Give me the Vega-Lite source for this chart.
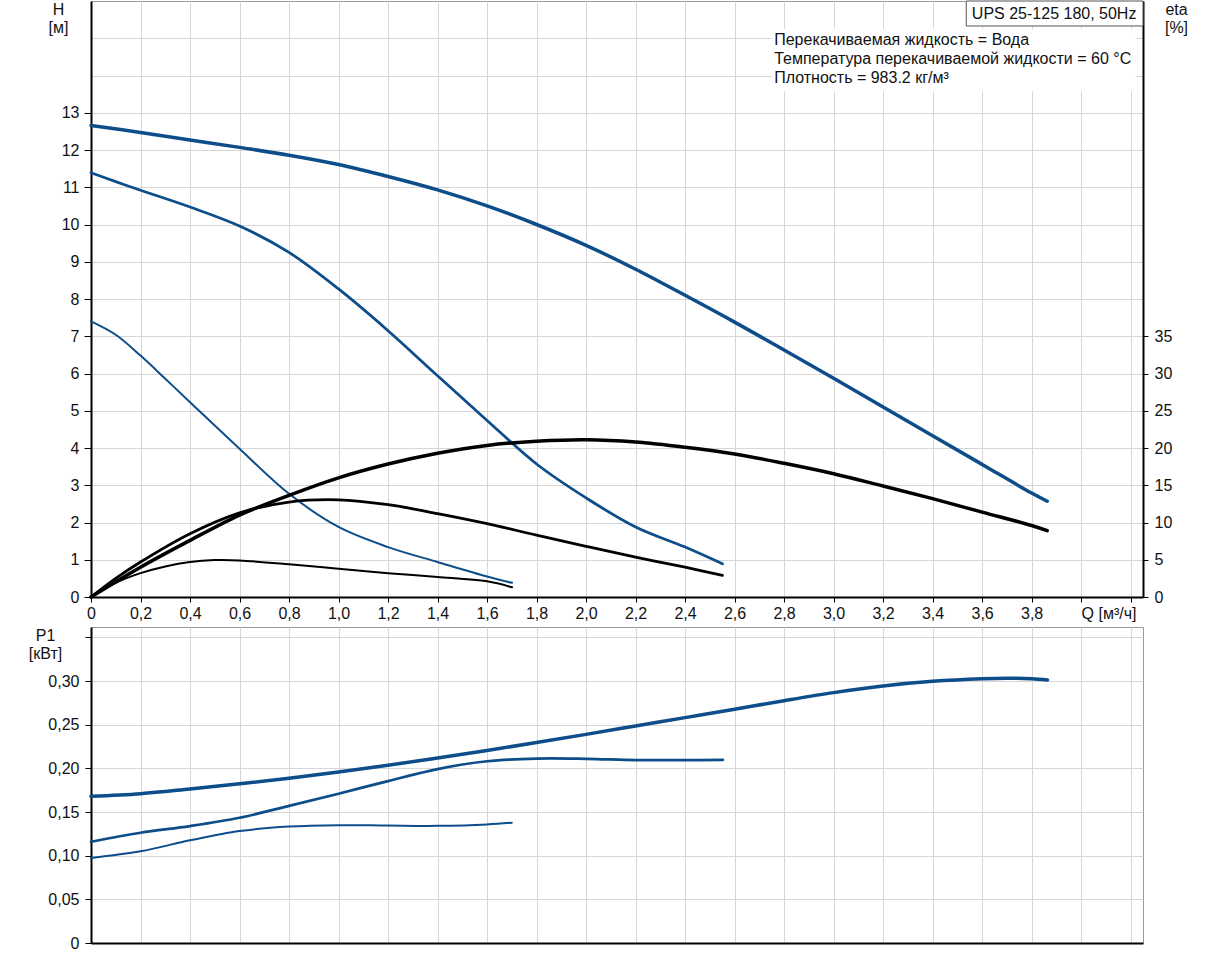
{
  "$schema": "https://vega.github.io/schema/vega-lite/v6.json",
  "padding": {"left": 27, "top": 0, "right": 5, "bottom": 5},
  "background": "white",
  "config": {
    "view": {"stroke": "#9a9a9a", "strokeWidth": 1},
    "axis": {
      "domainColor": "black", "domainWidth": 2, "tickColor": "black", "tickWidth": 1,
      "labelFont": "Liberation Sans", "labelFontSize": 16, "labelColor": "#111",
      "titleFont": "Liberation Sans", "titleFontSize": 16, "titleFontWeight": "normal", "titleColor": "#111",
      "gridColor": "#d6d6d6", "gridWidth": 1, "labelOverlap": false, "labelBound": false, "labelFlush": false
    },
    "text": {"font": "Liberation Sans"}
  },
  "datasets": {
    "curves": [
      {"kind": "H", "speed": "max", "Q": 0, "v": 12.66},
      {"kind": "H", "speed": "max", "Q": 0.2, "v": 12.47},
      {"kind": "H", "speed": "max", "Q": 0.4, "v": 12.27},
      {"kind": "H", "speed": "max", "Q": 0.6, "v": 12.07},
      {"kind": "H", "speed": "max", "Q": 0.8, "v": 11.86},
      {"kind": "H", "speed": "max", "Q": 1.0, "v": 11.61},
      {"kind": "H", "speed": "max", "Q": 1.2, "v": 11.29},
      {"kind": "H", "speed": "max", "Q": 1.4, "v": 10.93},
      {"kind": "H", "speed": "max", "Q": 1.6, "v": 10.50},
      {"kind": "H", "speed": "max", "Q": 1.8, "v": 10.0},
      {"kind": "H", "speed": "max", "Q": 2.0, "v": 9.44},
      {"kind": "H", "speed": "max", "Q": 2.2, "v": 8.80},
      {"kind": "H", "speed": "max", "Q": 2.4, "v": 8.10},
      {"kind": "H", "speed": "max", "Q": 2.6, "v": 7.38},
      {"kind": "H", "speed": "max", "Q": 2.8, "v": 6.63},
      {"kind": "H", "speed": "max", "Q": 3.0, "v": 5.87},
      {"kind": "H", "speed": "max", "Q": 3.2, "v": 5.10},
      {"kind": "H", "speed": "max", "Q": 3.4, "v": 4.33},
      {"kind": "H", "speed": "max", "Q": 3.6, "v": 3.56},
      {"kind": "H", "speed": "max", "Q": 3.8, "v": 2.79},
      {"kind": "H", "speed": "max", "Q": 3.863, "v": 2.57},

      {"kind": "H", "speed": "mid", "Q": 0, "v": 11.39},
      {"kind": "H", "speed": "mid", "Q": 0.1, "v": 11.15},
      {"kind": "H", "speed": "mid", "Q": 0.2, "v": 10.92},
      {"kind": "H", "speed": "mid", "Q": 0.4, "v": 10.47},
      {"kind": "H", "speed": "mid", "Q": 0.6, "v": 9.96},
      {"kind": "H", "speed": "mid", "Q": 0.8, "v": 9.25},
      {"kind": "H", "speed": "mid", "Q": 1.0, "v": 8.27},
      {"kind": "H", "speed": "mid", "Q": 1.2, "v": 7.15},
      {"kind": "H", "speed": "mid", "Q": 1.4, "v": 5.94},
      {"kind": "H", "speed": "mid", "Q": 1.6, "v": 4.74},
      {"kind": "H", "speed": "mid", "Q": 1.8, "v": 3.57},
      {"kind": "H", "speed": "mid", "Q": 2.0, "v": 2.66},
      {"kind": "H", "speed": "mid", "Q": 2.2, "v": 1.88},
      {"kind": "H", "speed": "mid", "Q": 2.4, "v": 1.34},
      {"kind": "H", "speed": "mid", "Q": 2.551, "v": 0.89},

      {"kind": "H", "speed": "min", "Q": 0, "v": 7.40},
      {"kind": "H", "speed": "min", "Q": 0.1, "v": 7.04},
      {"kind": "H", "speed": "min", "Q": 0.2, "v": 6.48},
      {"kind": "H", "speed": "min", "Q": 0.3, "v": 5.86},
      {"kind": "H", "speed": "min", "Q": 0.4, "v": 5.23},
      {"kind": "H", "speed": "min", "Q": 0.6, "v": 3.98},
      {"kind": "H", "speed": "min", "Q": 0.8, "v": 2.77},
      {"kind": "H", "speed": "min", "Q": 1.0, "v": 1.88},
      {"kind": "H", "speed": "min", "Q": 1.2, "v": 1.34},
      {"kind": "H", "speed": "min", "Q": 1.4, "v": 0.94},
      {"kind": "H", "speed": "min", "Q": 1.6, "v": 0.55},
      {"kind": "H", "speed": "min", "Q": 1.701, "v": 0.38},

      {"kind": "eta", "speed": "max", "Q": 0, "v": 0},
      {"kind": "eta", "speed": "max", "Q": 0.2, "v": 4.0},
      {"kind": "eta", "speed": "max", "Q": 0.4, "v": 7.6},
      {"kind": "eta", "speed": "max", "Q": 0.6, "v": 11.0},
      {"kind": "eta", "speed": "max", "Q": 0.8, "v": 13.65},
      {"kind": "eta", "speed": "max", "Q": 1.0, "v": 16.0},
      {"kind": "eta", "speed": "max", "Q": 1.2, "v": 17.85},
      {"kind": "eta", "speed": "max", "Q": 1.4, "v": 19.3},
      {"kind": "eta", "speed": "max", "Q": 1.6, "v": 20.35},
      {"kind": "eta", "speed": "max", "Q": 1.8, "v": 20.9},
      {"kind": "eta", "speed": "max", "Q": 2.0, "v": 21.1},
      {"kind": "eta", "speed": "max", "Q": 2.2, "v": 20.8},
      {"kind": "eta", "speed": "max", "Q": 2.4, "v": 20.1},
      {"kind": "eta", "speed": "max", "Q": 2.6, "v": 19.2},
      {"kind": "eta", "speed": "max", "Q": 2.8, "v": 17.95},
      {"kind": "eta", "speed": "max", "Q": 3.0, "v": 16.55},
      {"kind": "eta", "speed": "max", "Q": 3.2, "v": 14.9},
      {"kind": "eta", "speed": "max", "Q": 3.4, "v": 13.2},
      {"kind": "eta", "speed": "max", "Q": 3.6, "v": 11.4},
      {"kind": "eta", "speed": "max", "Q": 3.8, "v": 9.6},
      {"kind": "eta", "speed": "max", "Q": 3.863, "v": 8.9},

      {"kind": "eta", "speed": "mid", "Q": 0, "v": 0},
      {"kind": "eta", "speed": "mid", "Q": 0.1, "v": 2.5},
      {"kind": "eta", "speed": "mid", "Q": 0.2, "v": 4.7},
      {"kind": "eta", "speed": "mid", "Q": 0.4, "v": 8.5},
      {"kind": "eta", "speed": "mid", "Q": 0.6, "v": 11.3},
      {"kind": "eta", "speed": "mid", "Q": 0.8, "v": 12.75},
      {"kind": "eta", "speed": "mid", "Q": 1.0, "v": 13.05},
      {"kind": "eta", "speed": "mid", "Q": 1.2, "v": 12.4},
      {"kind": "eta", "speed": "mid", "Q": 1.4, "v": 11.2},
      {"kind": "eta", "speed": "mid", "Q": 1.6, "v": 9.85},
      {"kind": "eta", "speed": "mid", "Q": 1.8, "v": 8.3},
      {"kind": "eta", "speed": "mid", "Q": 2.0, "v": 6.8},
      {"kind": "eta", "speed": "mid", "Q": 2.2, "v": 5.35},
      {"kind": "eta", "speed": "mid", "Q": 2.4, "v": 4.0},
      {"kind": "eta", "speed": "mid", "Q": 2.551, "v": 2.9},

      {"kind": "eta", "speed": "min", "Q": 0, "v": 0},
      {"kind": "eta", "speed": "min", "Q": 0.1, "v": 1.9},
      {"kind": "eta", "speed": "min", "Q": 0.2, "v": 3.2},
      {"kind": "eta", "speed": "min", "Q": 0.3, "v": 4.1},
      {"kind": "eta", "speed": "min", "Q": 0.4, "v": 4.7},
      {"kind": "eta", "speed": "min", "Q": 0.5, "v": 4.95},
      {"kind": "eta", "speed": "min", "Q": 0.6, "v": 4.9},
      {"kind": "eta", "speed": "min", "Q": 0.8, "v": 4.4},
      {"kind": "eta", "speed": "min", "Q": 1.0, "v": 3.8},
      {"kind": "eta", "speed": "min", "Q": 1.2, "v": 3.2},
      {"kind": "eta", "speed": "min", "Q": 1.4, "v": 2.7},
      {"kind": "eta", "speed": "min", "Q": 1.6, "v": 2.1},
      {"kind": "eta", "speed": "min", "Q": 1.701, "v": 1.3},

      {"kind": "P1", "speed": "max", "Q": 0, "v": 0.168},
      {"kind": "P1", "speed": "max", "Q": 0.2, "v": 0.171},
      {"kind": "P1", "speed": "max", "Q": 0.4, "v": 0.1765},
      {"kind": "P1", "speed": "max", "Q": 0.6, "v": 0.1824},
      {"kind": "P1", "speed": "max", "Q": 0.8, "v": 0.1888},
      {"kind": "P1", "speed": "max", "Q": 1.0, "v": 0.1958},
      {"kind": "P1", "speed": "max", "Q": 1.2, "v": 0.2036},
      {"kind": "P1", "speed": "max", "Q": 1.4, "v": 0.2120},
      {"kind": "P1", "speed": "max", "Q": 1.6, "v": 0.2206},
      {"kind": "P1", "speed": "max", "Q": 1.8, "v": 0.2296},
      {"kind": "P1", "speed": "max", "Q": 2.0, "v": 0.239},
      {"kind": "P1", "speed": "max", "Q": 2.2, "v": 0.2486},
      {"kind": "P1", "speed": "max", "Q": 2.4, "v": 0.2582},
      {"kind": "P1", "speed": "max", "Q": 2.6, "v": 0.2678},
      {"kind": "P1", "speed": "max", "Q": 2.8, "v": 0.2776},
      {"kind": "P1", "speed": "max", "Q": 3.0, "v": 0.2868},
      {"kind": "P1", "speed": "max", "Q": 3.2, "v": 0.2945},
      {"kind": "P1", "speed": "max", "Q": 3.4, "v": 0.2998},
      {"kind": "P1", "speed": "max", "Q": 3.6, "v": 0.3028},
      {"kind": "P1", "speed": "max", "Q": 3.7, "v": 0.3034},
      {"kind": "P1", "speed": "max", "Q": 3.8, "v": 0.3027},
      {"kind": "P1", "speed": "max", "Q": 3.864, "v": 0.3014},

      {"kind": "P1", "speed": "mid", "Q": 0, "v": 0.116},
      {"kind": "P1", "speed": "mid", "Q": 0.2, "v": 0.1263},
      {"kind": "P1", "speed": "mid", "Q": 0.4, "v": 0.134},
      {"kind": "P1", "speed": "mid", "Q": 0.6, "v": 0.1435},
      {"kind": "P1", "speed": "mid", "Q": 0.8, "v": 0.157},
      {"kind": "P1", "speed": "mid", "Q": 1.0, "v": 0.171},
      {"kind": "P1", "speed": "mid", "Q": 1.2, "v": 0.1855},
      {"kind": "P1", "speed": "mid", "Q": 1.4, "v": 0.1992},
      {"kind": "P1", "speed": "mid", "Q": 1.6, "v": 0.2082},
      {"kind": "P1", "speed": "mid", "Q": 1.8, "v": 0.2113},
      {"kind": "P1", "speed": "mid", "Q": 2.0, "v": 0.2110},
      {"kind": "P1", "speed": "mid", "Q": 2.2, "v": 0.2096},
      {"kind": "P1", "speed": "mid", "Q": 2.4, "v": 0.2094},
      {"kind": "P1", "speed": "mid", "Q": 2.553, "v": 0.2099},

      {"kind": "P1", "speed": "min", "Q": 0, "v": 0.0975},
      {"kind": "P1", "speed": "min", "Q": 0.2, "v": 0.105},
      {"kind": "P1", "speed": "min", "Q": 0.4, "v": 0.1176},
      {"kind": "P1", "speed": "min", "Q": 0.6, "v": 0.1282},
      {"kind": "P1", "speed": "min", "Q": 0.8, "v": 0.1334},
      {"kind": "P1", "speed": "min", "Q": 1.0, "v": 0.1350},
      {"kind": "P1", "speed": "min", "Q": 1.2, "v": 0.1345},
      {"kind": "P1", "speed": "min", "Q": 1.4, "v": 0.1342},
      {"kind": "P1", "speed": "min", "Q": 1.6, "v": 0.1358},
      {"kind": "P1", "speed": "min", "Q": 1.7, "v": 0.1378}
    ]
  },
  "vconcat": [
    {
      "width": 1052,
      "height": 596,
      "layer": [
        {
          "data": {"name": "curves"},
          "transform": [{"filter": "datum.kind == 'H'"}],
          "mark": {"type": "line", "color": "#0c4d8a", "interpolate": "catmull-rom", "strokeCap": "round"},
          "encoding": {
            "x": {
              "field": "Q", "type": "quantitative",
              "scale": {"domain": [0, 4.25], "nice": false, "zero": false},
              "axis": {
                "orient": "bottom", "title": null, "grid": true, "labelOverlap": false,
                "values": [0, 0.2, 0.4, 0.6, 0.8, 1.0, 1.2, 1.4, 1.6, 1.8, 2.0, 2.2, 2.4, 2.6, 2.8, 3.0, 3.2, 3.4, 3.6, 3.8, 4.0, 4.2],
                "tickSize": 5, "labelPadding": 3,
                "labelExpr": "datum.value == 0 ? '0' : datum.value > 4.1 ? '' : datum.value > 3.9 ? 'Q [м³/ч]' : replace(format(datum.value, '.1f'), '.', ',')",
                "labelAlign": {"condition": {"test": "datum.value > 3.9 && datum.value < 4.1", "value": "left"}, "value": "center"}
              }
            },
            "y": {
              "field": "v", "type": "quantitative",
              "scale": {"domain": [0, 16], "nice": false},
              "axis": {
                "orient": "left", "grid": true, "labelOverlap": false,
                "values": [0, 1, 2, 3, 4, 5, 6, 7, 8, 9, 10, 11, 12, 13, 14, 15],
                "labelExpr": "datum.value > 13 ? '' : datum.label",
                "tickColor": {"condition": {"test": "datum.value > 13", "value": "transparent"}, "value": "black"},
                "tickSize": 7, "labelPadding": 5,
                "title": ["H", "[м]"], "titleAngle": 0, "titleAlign": "center", "titleBaseline": "top",
                "titleX": -33, "titleY": 0, "titleLineHeight": 18
              }
            },
            "detail": {"field": "speed"},
            "strokeWidth": {"field": "speed", "type": "nominal", "scale": {"domain": ["max", "mid", "min"], "range": [3.5, 2, 1.8]}, "legend": null}
          }
        },
        {
          "data": {"name": "curves"},
          "transform": [{"filter": "datum.kind == 'eta'"}],
          "mark": {"type": "line", "color": "black", "interpolate": "catmull-rom", "strokeCap": "round"},
          "encoding": {
            "x": {"field": "Q", "type": "quantitative"},
            "y": {
              "field": "v", "type": "quantitative",
              "scale": {"domain": [0, 80], "nice": false},
              "axis": {
                "orient": "right", "grid": false, "labelOverlap": false,
                "values": [0, 5, 10, 15, 20, 25, 30, 35],
                "tickSize": 5, "labelPadding": 6,
                "title": ["eta", "[%]"], "titleAngle": 0, "titleAlign": "center", "titleBaseline": "top",
                "titleX": 33, "titleY": 0, "titleLineHeight": 18
              }
            },
            "detail": {"field": "speed"},
            "strokeWidth": {"field": "speed", "type": "nominal", "scale": {"domain": ["max", "mid", "min"], "range": [3.5, 2, 1.8]}, "legend": null}
          }
        },
        {
          "data": {"values": [{}]},
          "mark": {"type": "rect", "fill": "white"},
          "encoding": {
            "x": {"datum": 2.75}, "x2": {"datum": 4.22},
            "y": {"datum": 15.25, "scale": {"domain": [0, 16], "nice": false}, "axis": null}, "y2": {"datum": 13.58}
          }
        },
        {
          "data": {"values": [{}]},
          "mark": {"type": "rect", "fill": "white", "stroke": "#555", "strokeWidth": 1},
          "encoding": {
            "x": {"datum": 3.536}, "x2": {"datum": 4.25},
            "y": {"datum": 16, "scale": {"domain": [0, 16], "nice": false}, "axis": null}, "y2": {"datum": 15.33}
          }
        },
        {
          "data": {"values": [{}]},
          "mark": {"type": "text", "text": "UPS 25-125 180, 50Hz", "fontSize": 16, "align": "center", "baseline": "middle", "color": "#111"},
          "encoding": {
            "x": {"datum": 3.891},
            "y": {"datum": 15.66, "scale": {"domain": [0, 16], "nice": false}, "axis": null}
          }
        },
        {
          "data": {"values": [{}]},
          "mark": {
            "type": "text",
            "text": ["Перекачиваемая жидкость = Вода", "Температура перекачиваемой жидкости = 60 °C", "Плотность = 983.2 кг/м³"],
            "fontSize": 16, "align": "left", "baseline": "top", "lineHeight": 19, "color": "#111"
          },
          "encoding": {
            "x": {"datum": 2.76},
            "y": {"datum": 15.17, "scale": {"domain": [0, 16], "nice": false}, "axis": null}
          }
        }
      ],
      "resolve": {"scale": {"y": "independent"}}
    },
    {
      "width": 1052,
      "height": 316,
      "data": {"name": "curves"},
      "transform": [{"filter": "datum.kind == 'P1'"}],
      "mark": {"type": "line", "color": "#0c4d8a", "interpolate": "catmull-rom", "strokeCap": "round"},
      "encoding": {
        "x": {
          "field": "Q", "type": "quantitative",
          "scale": {"domain": [0, 4.25], "nice": false, "zero": false},
          "axis": {
            "orient": "bottom", "title": null, "grid": true, "labels": false, "ticks": false,
            "values": [0, 0.2, 0.4, 0.6, 0.8, 1.0, 1.2, 1.4, 1.6, 1.8, 2.0, 2.2, 2.4, 2.6, 2.8, 3.0, 3.2, 3.4, 3.6, 3.8, 4.0, 4.2]
          }
        },
        "y": {
          "field": "v", "type": "quantitative",
          "scale": {"domain": [0, 0.362], "nice": false},
          "axis": {
            "orient": "left", "grid": true, "labelOverlap": false,
            "values": [0, 0.05, 0.1, 0.15, 0.2, 0.25, 0.3, 0.35],
            "labelExpr": "datum.value == 0 ? '0' : datum.value > 0.32 ? '' : replace(format(datum.value, '.2f'), '.', ',')",
            "tickSize": 6, "labelPadding": 6,
            "title": ["P1", "[кВт]"], "titleAngle": 0, "titleAlign": "center", "titleBaseline": "top",
            "titleX": -46, "titleY": 0, "titleLineHeight": 18
          }
        },
        "detail": {"field": "speed"},
        "strokeWidth": {"field": "speed", "type": "nominal", "scale": {"domain": ["max", "mid", "min"], "range": [3.5, 2, 1.8]}, "legend": null}
      }
    }
  ],
  "spacing": 30,
  "bounds": "flush"
}
